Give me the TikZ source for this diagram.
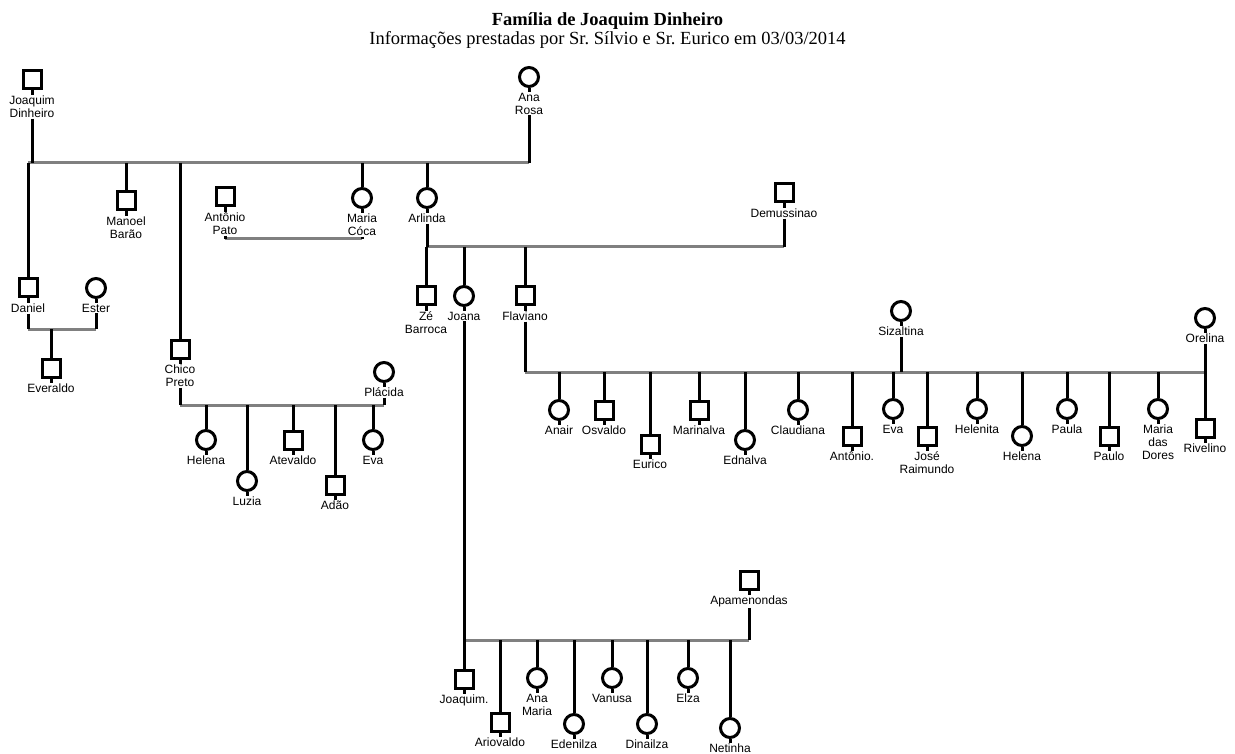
\documentclass[tikz,border=0pt]{standalone}
\usepackage{fontspec}
\setmainfont{Liberation Serif}
\newfontfamily\namefont{Liberation Sans}
\definecolor{bondgray}{RGB}{128,128,128}
\frenchspacing

\begin{document}
\begin{tikzpicture}[x=1pt,y=-1pt,
	man/.style={draw,rectangle,line width=3pt,minimum size=18pt,inner sep=0pt},
	woman/.style={draw,circle,line width=3pt,minimum size=19pt,inner sep=0pt},
	who/.style={font=\namefont\fontsize{12}{13}\selectfont,align=center,anchor=north,inner sep=0.5pt},
	tie/.style={line width=3pt},
	bond/.style={line width=3pt,draw=bondgray}]
	\useasboundingbox (0,0) rectangle (1235,754);

	\node[font=\bfseries\fontsize{18.5}{20}\selectfont,anchor=base] (title) at (607.5,26) {Família de Joaquim Dinheiro};
	\node[font=\fontsize{18.5}{20}\selectfont,anchor=base] (subtitle) at (607.5,44.5) {Informações prestadas por Sr. Sílvio e Sr. Eurico em 03/03/2014};

	% people
	\node[man] (jd) at (32,80) {};
	\node[woman] (ar) at (529,77) {};
	\node[man] (dan) at (28,288) {};
	\node[woman] (est) at (96,288) {};
	\node[man] (eve) at (51,368) {};
	\node[man] (mb) at (126,201) {};
	\node[man] (ap) at (225,197) {};
	\node[woman] (mc) at (362,198) {};
	\node[man] (cp) at (180,349) {};
	\node[woman] (pla) at (384,372) {};
	\node[woman] (hel) at (206,440) {};
	\node[woman] (luz) at (247,481) {};
	\node[man] (ate) at (293,440) {};
	\node[man] (ada) at (335,485) {};
	\node[woman] (eva) at (373,440) {};
	\node[woman] (arl) at (427,198) {};
	\node[man] (dem) at (784,193) {};
	\node[man] (ze) at (426,296) {};
	\node[woman] (joa) at (464,296) {};
	\node[man] (fla) at (525,296) {};
	\node[woman] (siz) at (901,311) {};
	\node[woman] (ore) at (1205,318) {};
	\node[woman] (anr) at (559,410) {};
	\node[man] (osv) at (604,410) {};
	\node[man] (eur) at (650,444) {};
	\node[man] (mar) at (699,410) {};
	\node[woman] (edn) at (745,440) {};
	\node[woman] (cla) at (798,410) {};
	\node[man] (ant) at (852,436) {};
	\node[woman] (ev2) at (893,409) {};
	\node[man] (jr) at (927,436) {};
	\node[woman] (hlt) at (977,409) {};
	\node[woman] (he2) at (1022,436) {};
	\node[woman] (pau) at (1067,409) {};
	\node[man] (plo) at (1109,436) {};
	\node[woman] (mdd) at (1158,409) {};
	\node[man] (riv) at (1205,428) {};
	\node[man] (apa) at (749,580) {};
	\node[man] (jq) at (464,679) {};
	\node[man] (ari) at (500,722) {};
	\node[woman] (am) at (537,678) {};
	\node[woman] (ede) at (574,724) {};
	\node[woman] (van) at (612,678) {};
	\node[woman] (din) at (647,724) {};
	\node[woman] (elz) at (688,678) {};
	\node[woman] (net) at (730,728) {};

	% names
	\node[who] (jdl) at ([yshift=-15.4pt]jd.center) {Joaquim\\Dinheiro};
	\node[who] (arl2) at ([yshift=-15.4pt]ar.center) {Ana\\Rosa};
	\node[who] (danl) at ([yshift=-15.4pt]dan.center) {Daniel};
	\node[who] (estl) at ([yshift=-15.4pt]est.center) {Ester};
	\node[who] (evel) at ([yshift=-15.4pt]eve.center) {Everaldo};
	\node[who] (mbl) at ([yshift=-15.4pt]mb.center) {Manoel\\Barão};
	\node[who] (apl) at ([yshift=-15.4pt]ap.center) {Antônio\\Pato};
	\node[who] (mcl) at ([yshift=-15.4pt]mc.center) {Maria\\Cóca};
	\node[who] (cpl) at ([yshift=-15.4pt]cp.center) {Chico\\Preto};
	\node[who] (plal) at ([yshift=-15.4pt]pla.center) {Plácida};
	\node[who] (hell) at ([yshift=-15.4pt]hel.center) {Helena};
	\node[who] (luzl) at ([yshift=-15.4pt]luz.center) {Luzia};
	\node[who] (atel) at ([yshift=-15.4pt]ate.center) {Atevaldo};
	\node[who] (adal) at ([yshift=-15.4pt]ada.center) {Adão};
	\node[who] (eval) at ([yshift=-15.4pt]eva.center) {Eva};
	\node[who] (arll) at ([yshift=-15.4pt]arl.center) {Arlinda};
	\node[who] (deml) at ([yshift=-15.4pt]dem.center) {Demussinao};
	\node[who] (zel) at ([yshift=-15.4pt]ze.center) {Zé\\Barroca};
	\node[who] (joal) at ([yshift=-15.4pt]joa.center) {Joana};
	\node[who] (flal) at ([yshift=-15.4pt]fla.center) {Flaviano};
	\node[who] (sizl) at ([yshift=-15.4pt]siz.center) {Sizaltina};
	\node[who] (orel) at ([yshift=-15.4pt]ore.center) {Orelina};
	\node[who] (anrl) at ([yshift=-15.4pt]anr.center) {Anair};
	\node[who] (osvl) at ([yshift=-15.4pt]osv.center) {Osvaldo};
	\node[who] (eurl) at ([yshift=-15.4pt]eur.center) {Eurico};
	\node[who] (marl) at ([yshift=-15.4pt]mar.center) {Marinalva};
	\node[who] (ednl) at ([yshift=-15.4pt]edn.center) {Ednalva};
	\node[who] (clal) at ([yshift=-15.4pt]cla.center) {Claudiana};
	\node[who] (antl) at ([yshift=-15.4pt]ant.center) {Antônio.};
	\node[who] (ev2l) at ([yshift=-15.4pt]ev2.center) {Eva};
	\node[who] (jrl) at ([yshift=-15.4pt]jr.center) {José\\Raimundo};
	\node[who] (hltl) at ([yshift=-15.4pt]hlt.center) {Helenita};
	\node[who] (he2l) at ([yshift=-15.4pt]he2.center) {Helena};
	\node[who] (paul) at ([yshift=-15.4pt]pau.center) {Paula};
	\node[who] (plol) at ([yshift=-15.4pt]plo.center) {Paulo};
	\node[who] (mddl) at ([yshift=-15.4pt]mdd.center) {Maria\\das\\Dores};
	\node[who] (rivl) at ([yshift=-15.4pt]riv.center) {Rivelino};
	\node[who] (apal) at ([yshift=-15.4pt]apa.center) {Apamenondas};
	\node[who] (jql) at ([yshift=-15.4pt]jq.center) {Joaquim.};
	\node[who] (aril) at ([yshift=-15.4pt]ari.center) {Ariovaldo};
	\node[who] (aml) at ([yshift=-15.4pt]am.center) {Ana\\Maria};
	\node[who] (edel) at ([yshift=-15.4pt]ede.center) {Edenilza};
	\node[who] (vanl) at ([yshift=-15.4pt]van.center) {Vanusa};
	\node[who] (dinl) at ([yshift=-15.4pt]din.center) {Dinailza};
	\node[who] (elzl) at ([yshift=-15.4pt]elz.center) {Elza};
	\node[who] (netl) at ([yshift=-15.4pt]net.center) {Netinha};

	% sibship lines
	\coordinate (b1) at (0,163);
	\coordinate (b2) at (0,329);
	\coordinate (b3) at (0,239);
	\coordinate (b4) at (0,405);
	\coordinate (b5) at (0,247);
	\coordinate (b6) at (0,372);
	\coordinate (b7) at (0,640);
	\draw[bond] (b1 -| dan) -- (b1 -| ar);
	\draw[bond] (b2 -| dan) -- (b2 -| est);
	\draw[bond] (b3 -| ap) -- (b3 -| mc);
	\draw[bond] (b4 -| cp) -- (b4 -| pla);
	\draw[bond] (b5 -| arl) -- (b5 -| dem);
	\draw[bond] (b6 -| fla) -- (b6 -| ore);
	\draw[bond] (b7 -| joa) -- (b7 -| apa);

	% short stubs under every symbol
	\foreach \p in {jd,dan,est,eve,mb,ap,mc,cp,pla,hel,luz,ate,ada,eva,arl,dem,ze,joa,fla,siz,ore,
		anr,osv,eur,mar,edn,cla,ant,ev2,jr,hlt,he2,pau,plo,mdd,riv,apa,jq,ari,am,ede,van,din,elz,net}
		\draw[tie] (\p) -- (\p l);
	\draw[tie] (ar) -- (arl2);

	% couples
	\draw[tie] (jdl) -- (jdl |- b1);
	\draw[tie] (arl2) -- (arl2 |- b1);
	\draw[tie] (danl) -- (danl |- b2);
	\draw[tie] (estl) -- (estl |- b2);
	\draw[tie] (apl) -- (apl |- b3);
	\draw[tie] (mcl) -- (mcl |- b3);
	\draw[tie] (cpl) -- (cpl |- b4);
	\draw[tie] (plal) -- (plal |- b4);
	\draw[tie] (arll) -- (arll |- b5);
	\draw[tie] (deml) -- (deml |- b5);
	\draw[tie] (flal) -- (flal |- b6);
	\draw[tie] (sizl) -- (sizl |- b6);
	\draw[tie] (orel) -- (orel |- b6);
	\draw[tie] (joal) -- (joal |- b7);
	\draw[tie] (apal) -- (apal |- b7);

	% children
	\foreach \p in {dan,mb,cp,mc,arl}
		\draw[tie] (b1 -| \p) -- (\p);
	\draw[tie] (b2 -| eve) -- (eve);
	\foreach \p in {hel,luz,ate,ada,eva}
		\draw[tie] (b4 -| \p) -- (\p);
	\foreach \p in {ze,joa,fla}
		\draw[tie] (b5 -| \p) -- (\p);
	\foreach \p in {anr,osv,eur,mar,edn,cla,ant,ev2,jr,hlt,he2,pau,plo,mdd,riv}
		\draw[tie] (b6 -| \p) -- (\p);
	\foreach \p in {jq,ari,am,ede,van,din,elz,net}
		\draw[tie] (b7 -| \p) -- (\p);
\end{tikzpicture}
\end{document}
